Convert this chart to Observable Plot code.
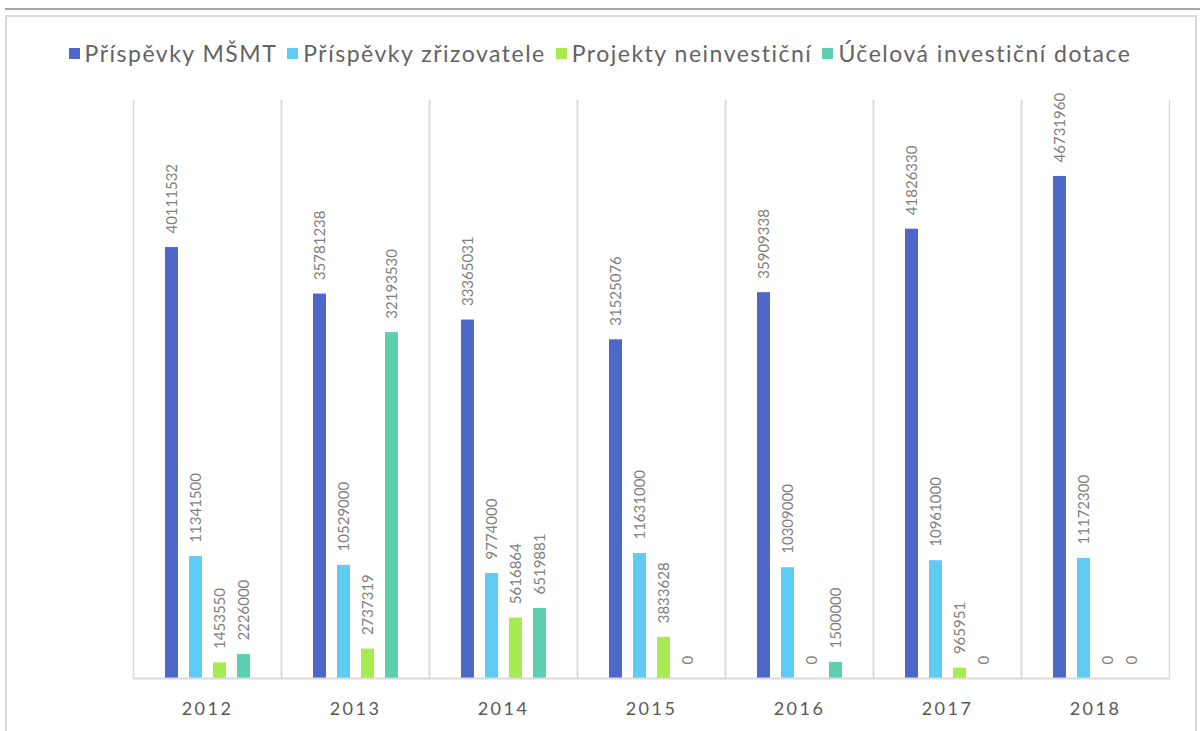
<!DOCTYPE html>
<html>
<head>
<meta charset="utf-8">
<script src="https://cdn.jsdelivr.net/npm/d3@7"></script>
<script src="https://cdn.jsdelivr.net/npm/@observablehq/plot@0.6"></script>
<style>
  html, body { margin: 0; padding: 0; background: #fff; }
  #wrap { position: relative; width: 1200px; height: 731px; overflow: hidden; font-family: Lato, "Open Sans", sans-serif; }
  #topline { position: absolute; left: 5px; top: 8px; width: 1195px; height: 2px; background: #a6a6a6; }
  #box { position: absolute; left: 5px; top: 15px; width: 1188px; height: 740px; border: 2px solid #d9d9d9; }
  #legend { position: absolute; left: 0; top: 39px; width: 1200px; display: flex; justify-content: center; align-items: center; font-size: 23px; letter-spacing: 1.5px; color: #636363; white-space: nowrap; }
  .item { display: flex; align-items: center; margin: 0 5px; }
  .sw { width: 11px; height: 11px; margin-right: 5px; }
  #chart { position: absolute; left: 0; top: 0; }
</style>
</head>
<body>
<div id="wrap">
  <div id="topline"></div>
  <div id="box"></div>
  <div id="chart"></div>
  <div id="legend"></div>
</div>
<script>
const years = ["2012", "2013", "2014", "2015", "2016", "2017", "2018"];
const seriesNames = ["Příspěvky MŠMT", "Příspěvky zřizovatele", "Projekty neinvestiční", "Účelová investiční dotace"];
const seriesColors = ["#4E67C8", "#5ECCF3", "#A7EA52", "#5DCEAF"];
const prispevkyMSMT = [40111532, 35781238, 33365031, 31525076, 35909338, 41826330, 46731960];
const prispevkyZrizovatele = [11341500, 10529000, 9774000, 11631000, 10309000, 10961000, 11172300];
const projektyNeinvesticni = [1453550, 2737319, 5616864, 3833628, 0, 965951, 0];
const ucelovaInvesticniDotace = [2226000, 32193530, 6519881, 0, 1500000, 0, 0];

const seriesValues = [prispevkyMSMT, prispevkyZrizovatele, projektyNeinvesticni, ucelovaInvesticniDotace];
const data = [];
years.forEach((y, i) => {
  seriesNames.forEach((s, j) => {
    data.push({year: y, series: s, value: seriesValues[j][i]});
  });
});

const gridColor = "#d9d9d9";

const chart = Plot.plot({
  width: 1200,
  height: 731,
  marginLeft: 130,
  marginRight: 29,
  marginTop: 100,
  marginBottom: 53,
  style: {background: "transparent", fontFamily: "Lato, sans-serif"},
  fx: {domain: years, padding: 0, label: null, axis: "bottom", tickSize: 0, tickPadding: 24},
  x: {domain: seriesNames, axis: null, paddingInner: 0.46, paddingOuter: 1.2},
  y: {domain: [0, 53.8e6], axis: null},
  color: {domain: seriesNames, range: seriesColors},
  marks: [
    Plot.frame({anchor: "left", stroke: gridColor, strokeWidth: 1.5}),
    Plot.frame({anchor: "right", stroke: gridColor, strokeWidth: 1.5}),
    Plot.barY(data, {fx: "year", x: "series", y: "value", fill: "series"}),
    Plot.ruleY([0], {stroke: gridColor, strokeWidth: 2}),
    Plot.text(data, {
      fx: "year", x: "series", y: "value",
      text: d => String(d.value),
      rotate: -90, textAnchor: "start", dy: -14,
      fill: "#7f7f7f", fontSize: 15
    })
  ]
});
chart.querySelectorAll('g[aria-label^="fx-axis"] text').forEach(t => {
  t.setAttribute("font-size", "18");
  t.setAttribute("fill", "#595959");
  t.style.letterSpacing = "2.5px";
});
const fxAxis = chart.querySelector('g[aria-label="fx-axis tick label"]') || chart.querySelector('g[aria-label="fx-axis"]');
if (fxAxis) { fxAxis.setAttribute("font-size", "18"); fxAxis.setAttribute("fill", "#595959"); }
document.getElementById("chart").appendChild(chart);

const legend = document.getElementById("legend");
seriesNames.forEach((s, j) => {
  const it = document.createElement("div");
  it.className = "item";
  const sw = document.createElement("div");
  sw.className = "sw";
  sw.style.background = seriesColors[j];
  const tx = document.createElement("span");
  tx.textContent = s;
  it.appendChild(sw); it.appendChild(tx);
  legend.appendChild(it);
});
</script>
</body>
</html>
